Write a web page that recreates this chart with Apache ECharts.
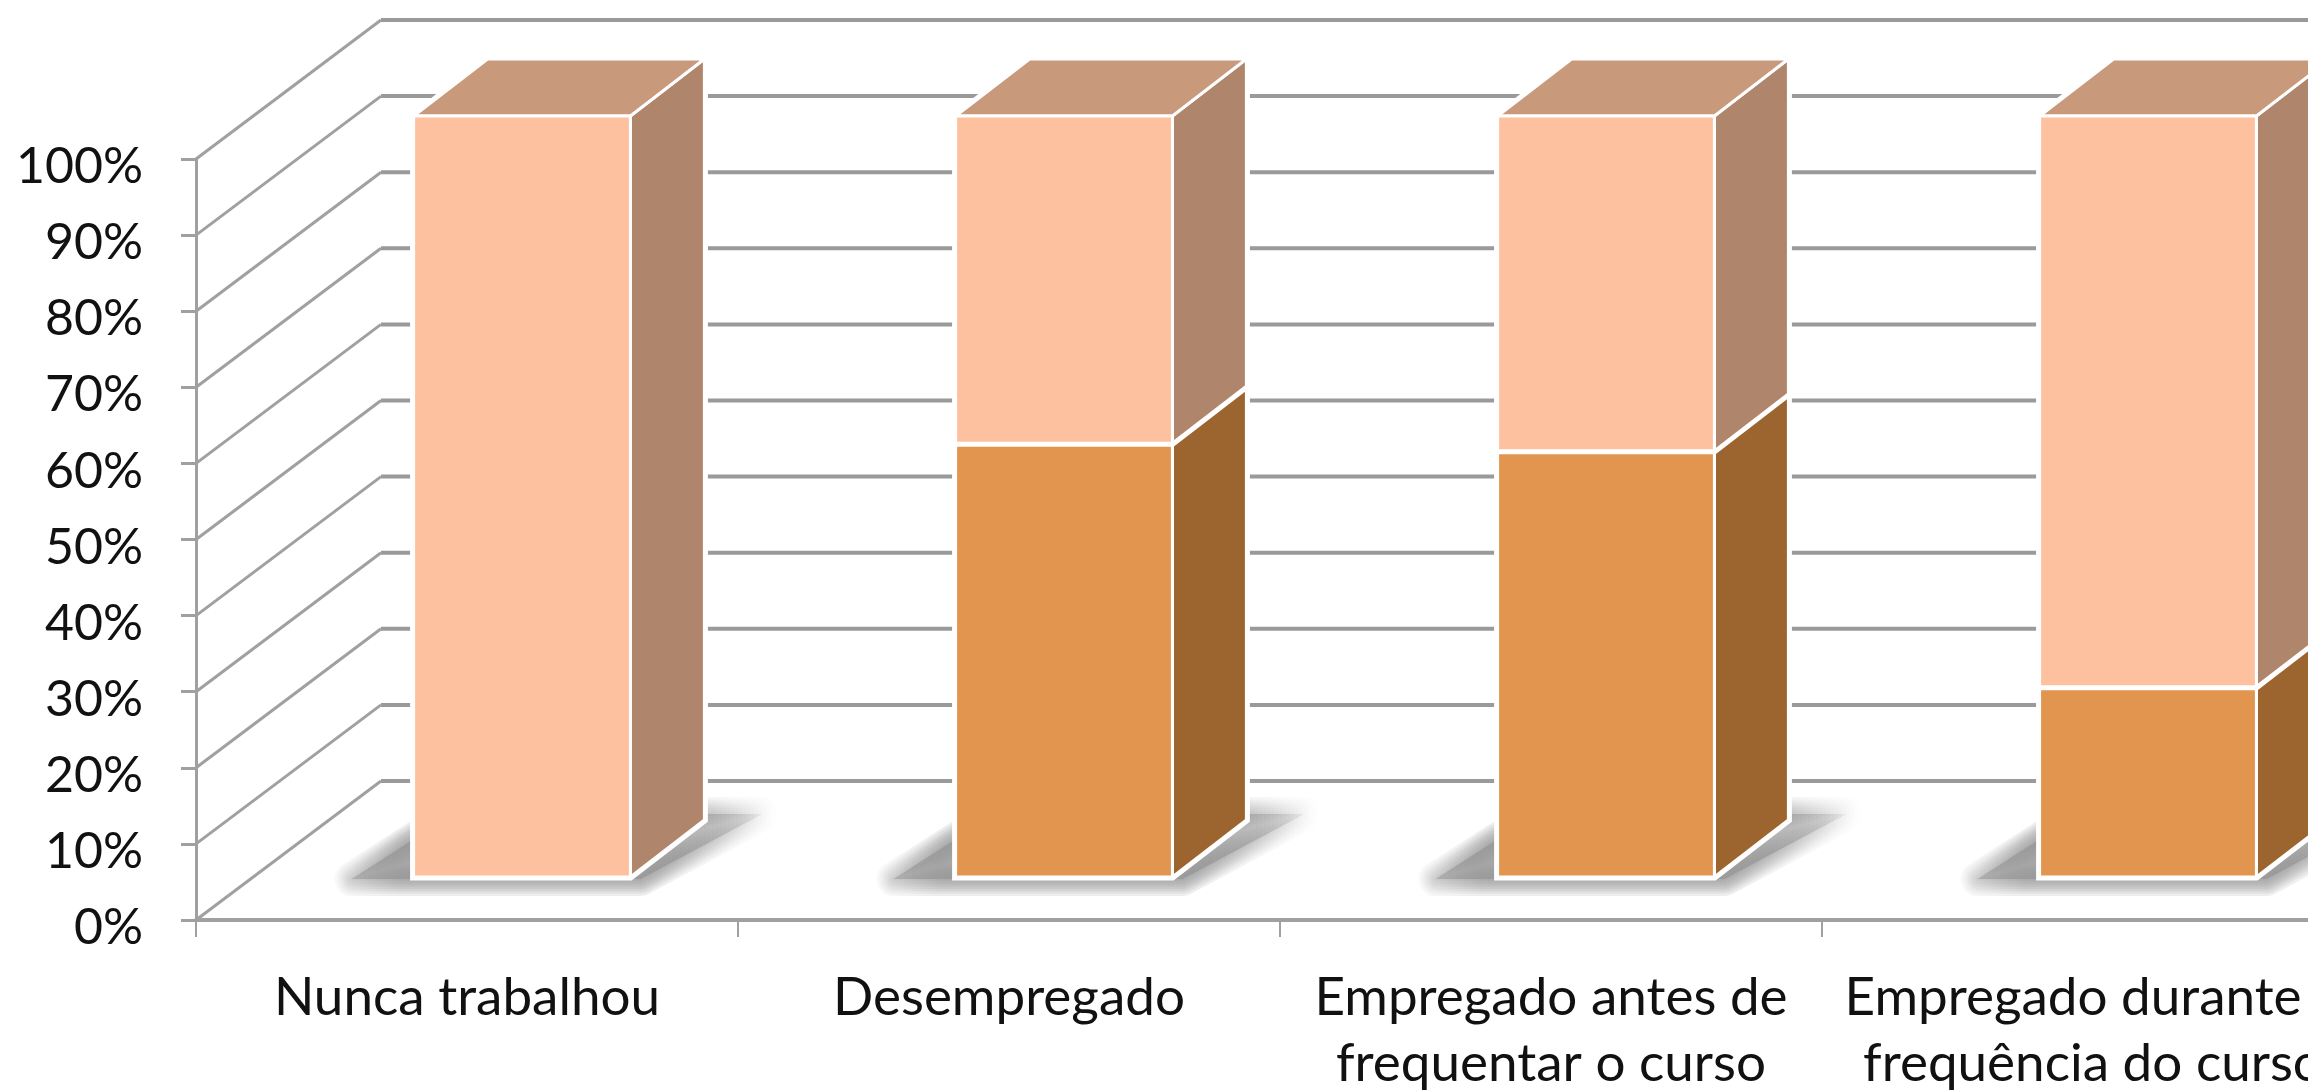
<!DOCTYPE html>
<html><head><meta charset="utf-8">
<style>html,body{margin:0;padding:0;background:#fff}#c{width:2317px;height:1092px;filter:blur(0.7px)}</style>
<script src="https://cdn.jsdelivr.net/npm/echarts@6/dist/echarts.min.js"></script>
</head><body><div id="c"></div>
<script>
const categories = ['Nunca trabalhou','Desempregado','Empregado antes de\nfrequentar o curso','Empregado durante a\nfrequência do curso'];
const lowerValues = [0, 57, 56, 25];
const upperValues = [100, 43, 44, 75];
const yTicks = [0,10,20,30,40,50,60,70,80,90,100];

const WALL_DX = 185, WALL_DY = 139;
const BAR_DX = 55, BAR_DY = 43, DEPTH_DX = 74, DEPTH_DY = 57, BAR_W = 0.4;
const GRAY = '#a0a0a0';
const chart = echarts.init(document.getElementById('c'));

function wall(params, api){
  const v = api.value(0);
  const band = api.size([1,0])[0];
  const p = api.coord([0, v]);
  const x0 = p[0]-band/2, y = p[1];
  const xEnd = x0 + band*categories.length + WALL_DX;
  return {type:'group',children:[
    {type:'polyline',shape:{points:[[x0,y],[x0+WALL_DX,y-WALL_DY]]},style:{stroke:GRAY,lineWidth:3,fill:null}},
    {type:'polyline',shape:{points:[[x0+WALL_DX,y-WALL_DY],[xEnd,y-WALL_DY]]},style:{stroke:'#9a9a9a',lineWidth:4,fill:null}}
  ]};
}
function box(api){
  const i = api.value(0), band = api.size([1,0])[0];
  const c = api.coord([i,0]);
  const w = band*BAR_W;
  return {l:c[0]-w/2+BAR_DX, r:c[0]+w/2+BAR_DX, y:(v)=>api.coord([i,v])[1]-BAR_DY};
}
function soft(a){
  const c = (o)=>'rgba(150,150,150,'+o+')';
  return new echarts.graphic.LinearGradient(0,0,1,0,[
    {offset:0,color:c(a*0.35)},{offset:0.14,color:c(a)},{offset:0.72,color:c(a)},{offset:1,color:c(0)}]);
}
function shadow(params, api){
  const b = box(api), y0 = b.y(0);
  const pts = [[b.l-62,y0+2],[b.r+10,y0+2],[b.r+DEPTH_DX+58,y0-DEPTH_DY-6],[b.l+40,y0-DEPTH_DY-6]];
  const kids = [];
  [34,29,24,20,16,12,8,4,1].forEach(w=>{
    kids.push({type:'polygon',shape:{points:pts},style:{fill:soft(0.17),stroke:soft(0.17),lineWidth:w,lineJoin:'round'}});
  });
  return {type:'group',children:kids};
}
function face(pts, fill){
  return {type:'polygon',shape:{points:pts},style:{fill:fill,stroke:'#fff',lineWidth:3,lineJoin:'miter'}};
}
function segment(colors, hasTop){
  return function(params, api){
    const from = api.value(1), to = api.value(2);
    if (to <= from) return null;
    const b = box(api), yb = b.y(from), yt = b.y(to);
    const kids = [];
    kids.push({type:'polygon',shape:{points:[[b.l,yb],[b.r,yb],[b.r+DEPTH_DX,yb-DEPTH_DY],[b.r+DEPTH_DX,yt-DEPTH_DY],[b.l+DEPTH_DX,yt-DEPTH_DY],[b.l,yt]]},
      style:{fill:'#fff',stroke:'#fff',lineWidth:7,lineJoin:'miter'}});
    kids.push(face([[b.r,yb],[b.r+DEPTH_DX,yb-DEPTH_DY],[b.r+DEPTH_DX,yt-DEPTH_DY],[b.r,yt]],colors[1]));
    if (hasTop) kids.push(face([[b.l,yt],[b.r,yt],[b.r+DEPTH_DX,yt-DEPTH_DY],[b.l+DEPTH_DX,yt-DEPTH_DY]],colors[2]));
    kids.push(face([[b.l,yb],[b.r,yb],[b.r,yt],[b.l,yt]],colors[0]));
    return {type:'group',children:kids};
  };
}
const lowerData = categories.map((c,i)=>[i,0,lowerValues[i]]);
const upperData = categories.map((c,i)=>[i,lowerValues[i],lowerValues[i]+upperValues[i]]);
const FONT = 'Lato';
chart.setOption({
  animation:false,
  backgroundColor:'#fff',
  grid:{left:196,top:159,width:2168,height:761,containLabel:false,outerBoundsMode:'none'},
  xAxis:{type:'category',data:categories,
    axisLine:{lineStyle:{color:GRAY,width:4}},
    axisTick:{show:true,length:17,lineStyle:{color:GRAY,width:2},alignWithLabel:false},
    axisLabel:{interval:0,color:'#111',fontFamily:FONT,fontSize:53,lineHeight:66,margin:45,hideOverlap:false},
    splitLine:{show:false}},
  yAxis:{type:'value',min:0,max:100,interval:10,
    axisLine:{show:true,lineStyle:{color:GRAY,width:3}},
    axisTick:{show:true,length:15,lineStyle:{color:GRAY,width:3}},
    axisLabel:{formatter:'{value}%',color:'#111',fontFamily:FONT,fontSize:50,margin:53,verticalAlign:'top',lineHeight:16,showMinLabel:true,showMaxLabel:true,hideOverlap:false},
    splitLine:{show:false}},
  series:[
    {type:'custom',name:'wall',renderItem:wall,coordinateSystem:'cartesian2d',data:yTicks.map(v=>[v]),encode:{y:0},silent:true,z:1},
    {type:'custom',name:'shadow',renderItem:shadow,data:categories.map((c,i)=>[i]),encode:{x:0},silent:true,z:2},
    {type:'custom',name:'Inferior',renderItem:segment(['#e2954e','#9c652f','#c9997c'],false),data:lowerData,encode:{x:0,y:[1,2]},z:3},
    {type:'custom',name:'Superior',renderItem:segment(['#fdc1a0','#af856b','#c9997c'],true),data:upperData,encode:{x:0,y:[1,2]},z:4}
  ],
  graphic:[{type:'rect',z:1000,silent:true,shape:{x:2308,y:0,width:9,height:1092},style:{fill:'#fff'}}]
});
</script></body></html>
